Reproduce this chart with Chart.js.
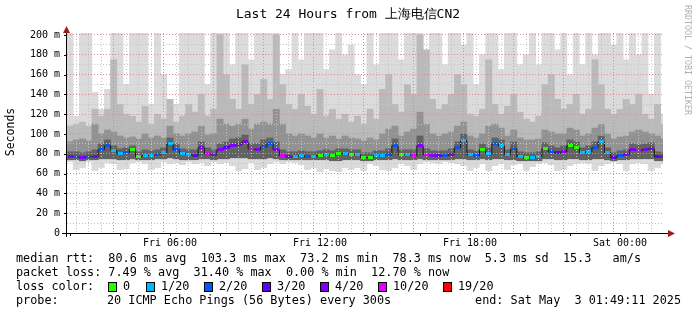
<!DOCTYPE html>
<html>
<head>
<meta charset="utf-8">
<script src="https://cdn.jsdelivr.net/npm/chart.js@4.4.1/dist/chart.umd.min.js"></script>
<style>
  html, body { margin: 0; padding: 0; background: #fff; }
</style>
</head>
<body>
<canvas id="chart" width="697" height="315"></canvas>
<script>
// 15 minute bins, minutes counted from Fri 00:00
const startMin = 120;
const stepMin = 15;

// median rtt per bin (ms)
const median = [
  77,77,76,77,77,84,88,83,80,81,
  84,77,78,78,79,81,90,84,80,79,
  78,86,80,79,84,86,88,89,92,85,
  84,87,90,84,78,77,77,78,77,77,
  78,79,78,80,80,79,79,76,76,78,
  78,79,88,79,79,78,88,79,78,78,
  78,79,86,93,79,78,84,80,90,88,
  79,85,77,76,76,77,85,82,81,82,
  88,86,81,82,86,92,81,76,78,79,
  84,83,84,85,77,77
];

// loss bucket per bin, index into lossLabels / lossColors
const lossIdx = [
  4,2,4,2,4,2,2,1,1,2,
  0,0,1,1,2,1,1,2,1,1,
  3,4,5,4,4,3,4,4,4,5,
  4,2,2,4,5,4,1,1,2,1,
  0,1,0,0,1,0,1,0,0,1,
  1,2,2,0,1,5,4,5,4,3,
  2,4,2,1,1,2,0,1,2,1,
  1,2,1,0,1,1,0,2,3,4,
  0,0,1,1,2,1,1,3,2,4,
  4,5,4,4,3,4
];

// smoke: slowest ping (light), upper mid / dark / core pings, low pings, fastest ping
const maxRtt = [
  205,118,205,205,142,125,145,205,205,150,
  205,205,205,130,205,160,125,130,205,205,
  205,205,150,205,205,205,170,205,205,175,
  205,205,205,205,160,165,205,175,205,205,
  205,165,185,205,180,190,160,150,205,170,
  205,205,205,175,205,205,205,185,205,205,
  170,205,205,190,205,150,180,205,205,165,
  205,205,170,180,205,170,205,205,185,205,
  160,205,170,205,180,205,205,190,205,175,
  205,180,205,140,205,120
];
const upperMid = [
  108,110,112,108,125,118,125,175,130,120,
  118,112,128,110,120,115,135,112,118,130,
  122,140,118,125,200,160,135,125,170,130,
  140,155,135,200,150,130,125,140,128,120,
  145,118,125,115,120,112,118,110,125,115,
  145,160,130,122,150,140,200,185,135,125,
  130,140,160,150,120,118,125,175,130,120,
  128,140,122,115,112,118,150,160,135,125,
  130,140,120,125,175,150,125,120,125,135,
  130,140,120,115,130,110
];
const upperDark = [
  92,94,95,93,110,100,104,102,98,96,
  97,95,100,96,98,96,108,100,98,100,
  102,108,99,100,115,110,108,110,115,105,
  110,112,110,125,110,100,98,100,98,96,
  100,96,98,95,98,96,95,93,96,94,
  100,105,108,98,102,105,122,110,100,98,
  100,102,108,112,98,96,100,108,110,106,
  98,104,96,94,94,95,104,102,100,100,
  106,104,98,100,106,110,100,95,97,98,
  102,104,102,100,98,95
];
const upperCore = [
  82,82,81,82,84,90,94,88,85,86,
  88,82,84,83,84,86,96,90,85,84,
  84,92,86,84,90,92,95,96,99,90,
  90,94,96,92,84,82,82,83,82,82,
  83,84,83,85,85,84,84,81,81,83,
  83,85,95,84,84,84,98,85,83,83,
  83,85,92,100,84,83,90,86,96,94,
  84,92,82,81,81,82,91,88,86,88,
  94,92,86,88,92,98,86,81,83,84,
  90,89,90,91,82,81
];
const lowRtt = [
  74,74,73,74,74,75,75,75,74,74,
  75,74,74,74,75,75,76,75,74,74,
  74,75,75,74,75,75,76,76,76,75,
  75,75,76,75,74,74,74,74,74,74,
  74,74,73,73,74,74,74,73,73,74,
  74,74,75,74,74,74,75,74,74,74,
  74,74,75,75,74,74,75,74,75,75,
  74,74,73,73,73,73,75,75,74,74,
  75,75,74,74,75,75,74,73,74,74,
  75,75,75,75,73,73
];
const minRtt = [
  72,64,66,72,63,66,71,70,64,65,
  71,72,70,64,66,72,70,71,69,72,
  70,71,68,72,70,71,68,63,65,71,
  64,66,70,72,70,72,71,69,64,66,
  62,65,63,62,66,64,66,63,70,68,
  64,63,66,70,68,64,70,72,71,70,
  72,71,70,68,63,66,70,63,68,70,
  64,69,70,63,67,70,71,69,63,64,
  68,70,71,70,63,68,70,72,70,63,
  70,71,70,63,66,70
];

const lossLabels = ['0', '1/20', '2/20', '3/20', '4/20', '10/20', '19/20'];
const lossColors = ['#26ff00', '#00b8ff', '#0059ff', '#5e00ff', '#7e00ff', '#dd00ff', '#ff0000'];

const yTicks = [0, 20, 40, 60, 80, 100, 120, 140, 160, 180, 200];

const statLines = [
  'median rtt:  80.6 ms avg  103.3 ms max  73.2 ms min  78.3 ms now  5.3 ms sd  15.3   am/s',
  'packet loss: 7.49 % avg  31.40 % max  0.00 % min  12.70 % now'
];

const times = median.map((_, i) => startMin + i * stepMin);

const xMin = 112.8, xMax = 1543.2;
const MONO = '"DejaVu Sans Mono", "Liberation Mono", monospace';

// small coloured dashes for the median line
const markers = lossColors.map(col => {
  const c = document.createElement('canvas');
  c.width = 5; c.height = 3;
  const g = c.getContext('2d');
  g.fillStyle = col;
  g.fillRect(0, 0, 5, 3);
  return c;
});

function timeLabel(v) {
  const day = v < 1440 ? 'Fri' : 'Sat';
  const m = v % 1440;
  const hh = String(Math.floor(m / 60)).padStart(2, '0');
  const mm = String(m % 60).padStart(2, '0');
  return day + ' ' + hh + ':' + mm;
}

function gridColor(every) {
  return c => {
    if (!c.tick) return 'rgba(0,0,0,0)';
    return c.tick.value % every === 0 ? '#e08a8a' : '#c4c4c4';
  };
}

const decor = {
  id: 'decor',
  beforeDraw(chart) {
    const ctx = chart.ctx;
    ctx.save();
    ctx.fillStyle = '#fff';
    ctx.fillRect(0, 0, chart.width, chart.height);
    ctx.restore();
  },
  afterDraw(chart) {
    const ctx = chart.ctx;
    const a = chart.chartArea;
    const xs = chart.scales.x, ys = chart.scales.y;
    ctx.save();
    ctx.setLineDash([]);

    // axes
    ctx.strokeStyle = '#000';
    ctx.lineWidth = 1;
    ctx.beginPath();
    ctx.moveTo(62, a.bottom + 0.5);
    ctx.lineTo(669, a.bottom + 0.5);
    ctx.moveTo(a.left - 0.5, a.bottom + 4);
    ctx.lineTo(a.left - 0.5, 31);
    for (let v = 120; v < xMax; v += 120) {
      const px = Math.round(xs.getPixelForValue(v)) + 0.5;
      ctx.moveTo(px, a.bottom);
      ctx.lineTo(px, a.bottom + 3);
    }
    yTicks.forEach(v => {
      const py = Math.round(ys.getPixelForValue(v)) + 0.5;
      ctx.moveTo(a.left - 3, py);
      ctx.lineTo(a.left, py);
    });
    ctx.stroke();

    // arrows
    ctx.fillStyle = '#9b1c1c';
    ctx.beginPath();
    ctx.moveTo(675, a.bottom + 0.5);
    ctx.lineTo(668, a.bottom - 3);
    ctx.lineTo(668, a.bottom + 4);
    ctx.closePath();
    ctx.fill();
    ctx.beginPath();
    ctx.moveTo(a.left - 0.5, 26);
    ctx.lineTo(a.left - 4, 33);
    ctx.lineTo(a.left + 3, 33);
    ctx.closePath();
    ctx.fill();

    // title
    ctx.fillStyle = '#000';
    ctx.textBaseline = 'middle';
    ctx.textAlign = 'center';
    ctx.font = '13px ' + MONO;
    ctx.fillText('Last 24 Hours from 上海电信CN2', 348, 15);

    // vertical label
    ctx.save();
    ctx.translate(11, 132);
    ctx.rotate(-Math.PI / 2);
    ctx.font = '11.5px ' + MONO;
    ctx.fillText('Seconds', 0, 0);
    ctx.restore();

    // watermark
    ctx.save();
    ctx.translate(687, 60);
    ctx.rotate(Math.PI / 2);
    ctx.fillStyle = '#b0b0b0';
    ctx.font = '8.3px ' + MONO;
    ctx.fillText('RRDTOOL / TOBI OETIKER', 0, 0);
    ctx.restore();

    // legend
    ctx.textAlign = 'left';
    ctx.font = '11.8px ' + MONO;
    ctx.fillText(statLines[0], 16, 259);
    ctx.fillText(statLines[1], 16, 273);
    ctx.fillText('loss color:', 16, 287);
    const boxX = [108, 145.5, 204, 262, 319.5, 378, 443];
    lossLabels.forEach((lab, i) => {
      const bx = Math.round(boxX[i]);
      ctx.fillStyle = lossColors[i];
      ctx.fillRect(bx, 282, 8, 9);
      ctx.strokeStyle = '#000';
      ctx.strokeRect(bx + 0.5, 282.5, 8, 9);
      ctx.fillStyle = '#000';
      ctx.fillText(lab, bx + 15, 287);
    });
    ctx.fillText('probe:', 16, 301);
    ctx.fillText('20 ICMP Echo Pings (56 Bytes) every 300s', 107, 301);
    ctx.textAlign = 'right';
    ctx.fillText('end: Sat May  3 01:49:11 2025', 681, 301);
    ctx.restore();
  }
};

const barBase = {
  type: 'bar',
  barPercentage: 1,
  categoryPercentage: 1,
  grouped: false,
  borderWidth: 0
};

function smoke(lo, hi, color, order) {
  return Object.assign({}, barBase, {
    data: times.map((t, i) => ({ x: t, y: [lo[i], hi[i]] })),
    backgroundColor: color,
    order: order
  });
}

new Chart(document.getElementById('chart'), {
  type: 'bar',
  data: {
    datasets: [
      {
        type: 'line',
        data: times.map((t, i) => ({ x: t, y: median[i] })),
        stepped: 'middle',
        borderColor: '#1a1a1a',
        borderWidth: 1,
        pointRadius: 2,
        pointStyle: ctx => markers[lossIdx[ctx.dataIndex]],
        order: 0
      },
      smoke(lowRtt, upperCore, '#626262', 1),
      smoke(lowRtt, upperDark, '#929292', 2),
      smoke(lowRtt, upperMid, '#bababa', 3),
      smoke(minRtt, maxRtt, '#dbdbdb', 4)
    ]
  },
  options: {
    responsive: false,
    animation: false,
    devicePixelRatio: 1,
    layout: { padding: { left: 0, right: 34, top: 33, bottom: 0 } },
    plugins: { legend: { display: false }, tooltip: { enabled: false } },
    scales: {
      x: {
        type: 'linear',
        min: xMin,
        max: xMax,
        offset: false,
        afterFit: s => { s.height = 82; },
        border: { display: false, dash: [1, 2] },
        grid: {
          z: 1,
          drawTicks: false,
          color: gridColor(120)
        },
        ticks: {
          stepSize: 30,
          maxTicksLimit: 1000,
          includeBounds: false,
          autoSkip: false,
          maxRotation: 0,
          padding: 4,
          color: '#000',
          font: { family: MONO, size: 10 },
          callback: v => (v % 360 === 0 ? timeLabel(v) : '')
        }
      },
      y: {
        min: 0,
        max: 202,
        afterFit: s => { s.width = 67; },
        border: { display: false, dash: [1, 2] },
        grid: {
          z: 1,
          drawTicks: false,
          color: gridColor(20)
        },
        ticks: {
          stepSize: 10,
          maxTicksLimit: 1000,
          includeBounds: false,
          autoSkip: false,
          padding: 7,
          color: '#000',
          font: { family: MONO, size: 10 },
          callback: v => (v % 20 === 0 ? (v === 0 ? '0' : v + ' m') : '')
        }
      }
    }
  },
  plugins: [decor]
});
</script>
</body>
</html>
